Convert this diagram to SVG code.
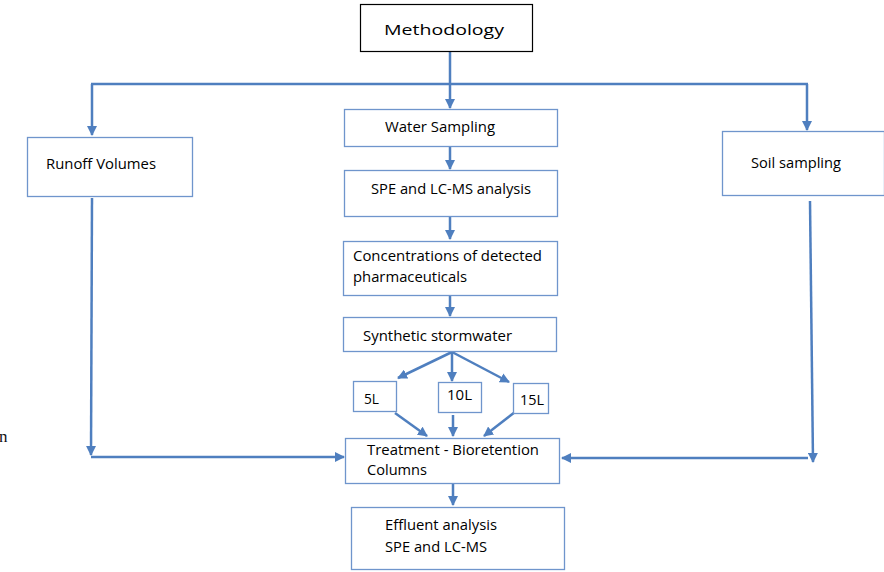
<svg xmlns="http://www.w3.org/2000/svg" width="884" height="572" viewBox="0 0 884 572">
<defs>
<marker id="ah" viewBox="0 0 10 10" refX="9" refY="5" markerWidth="4" markerHeight="4" orient="auto" markerUnits="strokeWidth">
<path d="M0,0 L10,5 L0,10 z" fill="#4f7fbf"/>
</marker>
<style>
.box{fill:#fff;stroke:#6f95cc;stroke-width:1.3}
.top{fill:#fff;stroke:#000;stroke-width:1.2}
.t{font-family:"Open Sans","Liberation Sans",sans-serif;font-size:15px;fill:#000}
.c{fill:none;stroke:#4f7fbf;stroke-width:2.5}
.ca{fill:none;stroke:#4f7fbf;stroke-width:2.5;marker-end:url(#ah)}
</style>
</defs>
<rect width="884" height="572" fill="#fff"/>
<text x="-1" y="442" font-family="'Liberation Serif',serif" font-size="17" fill="#111">n</text>
<g id="connectors">
<line class="c" x1="450" y1="52" x2="450" y2="84"/>
<line class="c" x1="91" y1="84" x2="808" y2="84"/>
<line class="ca" x1="450" y1="84" x2="450" y2="108"/>
<line class="ca" x1="92" y1="84" x2="92" y2="135"/>
<line class="ca" x1="807" y1="84" x2="807" y2="130"/>
<line class="ca" x1="450" y1="146" x2="450" y2="169"/>
<line class="ca" x1="450" y1="216" x2="450" y2="239"/>
<line class="ca" x1="450" y1="295" x2="450" y2="316"/>
<line class="ca" x1="452" y1="352" x2="398" y2="378"/>
<line class="ca" x1="452" y1="352" x2="452" y2="381"/>
<line class="ca" x1="452" y1="352" x2="509" y2="382"/>
<line class="ca" x1="395" y1="413" x2="427" y2="436"/>
<line class="ca" x1="453" y1="415" x2="453" y2="436"/>
<line class="ca" x1="515" y1="412" x2="484" y2="436"/>
<line class="ca" x1="92" y1="198" x2="91" y2="455"/>
<line class="ca" x1="91" y1="457" x2="344" y2="457"/>
<line class="ca" x1="810" y1="201" x2="813" y2="462"/>
<line class="ca" x1="808" y1="458" x2="562" y2="458"/>
<line class="ca" x1="453" y1="483" x2="453" y2="505"/>
</g>
<g id="methodology">
<rect class="top" x="360.5" y="4.5" width="172" height="47"/>
<text class="t" x="384" y="35" font-size="21" textLength="120" lengthAdjust="spacingAndGlyphs">Methodology</text>
</g>
<g id="runoff">
<rect class="box" x="27.5" y="137.5" width="165" height="59"/>
<text class="t" x="46" y="169" textLength="110" lengthAdjust="spacingAndGlyphs">Runoff Volumes</text>
</g>
<g id="soil">
<rect class="box" x="722.5" y="131.5" width="162" height="64"/>
<text class="t" x="751" y="168" textLength="90" lengthAdjust="spacingAndGlyphs">Soil sampling</text>
</g>
<g id="water">
<rect class="box" x="344.5" y="109.5" width="213" height="37"/>
<text class="t" x="385" y="132" textLength="110" lengthAdjust="spacingAndGlyphs">Water Sampling</text>
</g>
<g id="spe">
<rect class="box" x="344.5" y="170.5" width="213" height="46"/>
<text class="t" x="371" y="194" textLength="160" lengthAdjust="spacingAndGlyphs">SPE and LC-MS analysis</text>
</g>
<g id="concentrations">
<rect class="box" x="343.5" y="241.5" width="214" height="54"/>
<text class="t" x="353" y="261" textLength="189" lengthAdjust="spacingAndGlyphs">Concentrations of detected</text>
<text class="t" x="353" y="282" textLength="114" lengthAdjust="spacingAndGlyphs">pharmaceuticals</text>
</g>
<g id="synthetic">
<rect class="box" x="343.5" y="317.5" width="213" height="34"/>
<text class="t" x="363" y="341" textLength="149" lengthAdjust="spacingAndGlyphs">Synthetic stormwater</text>
</g>
<g id="v5L">
<rect class="box" x="353.5" y="381.5" width="43" height="30"/>
<text class="t" x="364" y="404" textLength="15" lengthAdjust="spacingAndGlyphs">5L</text>
</g>
<g id="v10L">
<rect class="box" x="438.5" y="382.5" width="43" height="30"/>
<text class="t" x="447" y="400" textLength="25" lengthAdjust="spacingAndGlyphs">10L</text>
</g>
<g id="v15L">
<rect class="box" x="513.5" y="383.5" width="35" height="30"/>
<text class="t" x="520" y="405" textLength="24" lengthAdjust="spacingAndGlyphs">15L</text>
</g>
<g id="treatment">
<rect class="box" x="345.5" y="438.5" width="214" height="45"/>
<text class="t" x="367" y="455" textLength="172" lengthAdjust="spacingAndGlyphs">Treatment - Bioretention</text>
<text class="t" x="367" y="475" textLength="60" lengthAdjust="spacingAndGlyphs">Columns</text>
</g>
<g id="effluent">
<rect class="box" x="351.5" y="507.5" width="213" height="62"/>
<text class="t" x="385" y="530" textLength="112" lengthAdjust="spacingAndGlyphs">Effluent analysis</text>
<text class="t" x="385" y="552" textLength="102" lengthAdjust="spacingAndGlyphs">SPE and LC-MS</text>
</g>
</svg>
